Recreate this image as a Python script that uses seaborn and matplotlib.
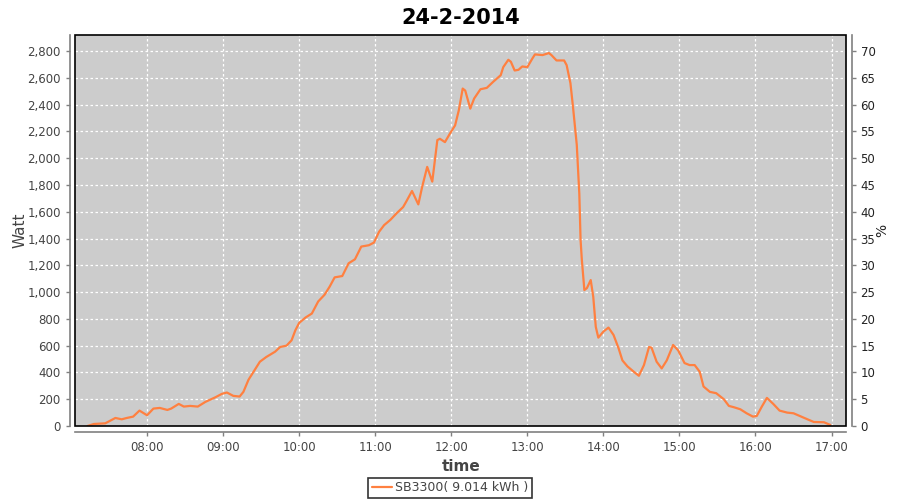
import pandas as pd
import seaborn as sns
import matplotlib.pyplot as plt
import matplotlib.dates as mdates
from matplotlib.patches import Rectangle

sns.set_style("ticks")
plt.rcParams['font.family'] = ['DejaVu Sans']

# readings of the SB3300 inverter, 24-2-2014
times = [
	"07:13", "07:18", "07:27", "07:29", "07:35", "07:40", "07:44", "07:49", "07:54", "08:00",
	"08:05", "08:10", "08:16", "08:19", "08:25", "08:29", "08:34", "08:40", "08:46", "08:54",
	"08:59", "09:03", "09:08", "09:13", "09:16", "09:20", "09:25", "09:29", "09:34", "09:41",
	"09:45", "09:50", "09:54", "09:57", "10:00", "10:05", "10:10", "10:15", "10:20", "10:24",
	"10:28", "10:34", "10:39", "10:44", "10:49", "10:55", "10:59", "11:03", "11:07", "11:12",
	"11:17", "11:22", "11:25", "11:29", "11:34", "11:37", "11:41", "11:45", "11:49", "11:51",
	"11:55", "11:59", "12:03", "12:06", "12:09", "12:11", "12:15", "12:18", "12:23", "12:28",
	"12:33", "12:39", "12:41", "12:45", "12:47", "12:50", "12:53", "12:56", "13:00", "13:04",
	"13:06", "13:12", "13:17", "13:19", "13:23", "13:29", "13:31", "13:33", "13:34", "13:36",
	"13:39", "13:41", "13:42", "13:43", "13:45", "13:47", "13:50", "13:52", "13:54", "13:56",
	"14:00", "14:04", "14:08", "14:12", "14:15", "14:19", "14:24", "14:28", "14:32", "14:36",
	"14:38", "14:42", "14:46", "14:50", "14:55", "14:59", "15:04", "15:08", "15:12", "15:16",
	"15:19", "15:24", "15:29", "15:35", "15:39", "15:43", "15:48", "15:53", "15:58", "16:01",
	"16:05", "16:09", "16:14", "16:19", "16:25", "16:30", "16:36", "16:41", "16:46", "16:54",
	"16:59",
]
watt = [
	0, 15, 20, 30, 60, 50, 60, 70, 115, 80,
	130, 135, 120, 130, 165, 145, 150, 145, 180, 215,
	240, 250, 225, 220, 255, 345, 420, 480, 515, 555,
	590, 600, 640, 715, 770, 810, 840, 930, 980, 1040,
	1110, 1120, 1215, 1245, 1340, 1350, 1370, 1450, 1500, 1540,
	1590, 1635, 1685, 1755, 1655, 1785, 1935, 1825, 2135, 2145,
	2120, 2185, 2245, 2360, 2520, 2505, 2370, 2445, 2515, 2525,
	2570, 2620, 2680, 2735, 2720, 2655, 2660, 2685, 2680, 2745,
	2775, 2770, 2785, 2770, 2730, 2730, 2695, 2605, 2560, 2385,
	2100, 1735, 1390, 1240, 1015, 1030, 1090, 965, 740, 660,
	705, 735, 680, 580, 490, 445, 405, 375, 455, 590,
	585, 480, 430, 490, 605, 565, 470, 455, 455, 405,
	295, 255, 245, 200, 150, 140, 125, 95, 70, 75,
	145, 210, 165, 115, 100, 95, 70, 50, 30, 28,
	8,
]
series_name = "SB3300( 9.014 kWh )"
title = "24-2-2014"
watt_ticks = list(range(0, 2801, 200))
pct_ticks = list(range(0, 71, 5))
hour_ticks = ["08:00", "09:00", "10:00", "11:00", "12:00", "13:00", "14:00", "15:00", "16:00", "17:00"]

day = "2014-02-24 "
df = pd.DataFrame({"time": pd.to_datetime([day + t for t in times]), "watt": watt})

fig = plt.figure(figsize=(9, 5), dpi=100)
ax = fig.add_axes([0.0837, 0.148, 0.8563, 0.782])
ax.set_facecolor("#cccccc")

axis_grey = "#808080"
text_grey = "#444444"

sns.lineplot(data=df, x="time", y="watt", ax=ax, color="#ff8040", linewidth=1.6,
			 label=series_name, legend=False)

ymax = 2920
ax.set_ylim(0, ymax)
ax.set_xlim(pd.Timestamp(day + "07:03:24"), pd.Timestamp(day + "17:11:24"))
ax.set_yticks(watt_ticks)
ax.set_yticklabels([f"{v:,}" for v in watt_ticks])
ax.set_xticks(pd.to_datetime([day + h for h in hour_ticks]))
ax.xaxis.set_major_formatter(mdates.DateFormatter("%H:%M"))

ax.grid(True, color="white", linestyle=(0, (2, 2)), linewidth=0.9)
ax.set_axisbelow(True)

for s in ["top", "right"]:
	ax.spines[s].set_visible(False)
for s in ["left", "bottom"]:
	ax.spines[s].set_position(("outward", 4))
	ax.spines[s].set_color(axis_grey)
	ax.spines[s].set_linewidth(1.2)
ax.add_patch(Rectangle((0, 0), 1, 1, transform=ax.transAxes, fill=False,
					   edgecolor="black", linewidth=1.2, clip_on=False, zorder=5))
ax.tick_params(axis="both", colors=axis_grey, labelcolor=text_grey, labelsize=8.5,
			   length=3, width=1)

ax.set_xlabel("time", fontsize=11, color=text_grey, fontweight="bold", labelpad=4)
ax.set_ylabel("Watt", fontsize=11, color=text_grey, labelpad=0)
ax.set_title(title, fontsize=15, fontweight="bold", color="black", pad=8)

ax2 = ax.twinx()
ax2.set_ylim(0, ymax / 40)
ax2.set_yticks(pct_ticks)
for s in ["top", "left", "bottom"]:
	ax2.spines[s].set_visible(False)
ax2.spines["right"].set_position(("outward", 4))
ax2.spines["right"].set_color(axis_grey)
ax2.spines["right"].set_linewidth(1.2)
ax2.tick_params(axis="y", colors=axis_grey, labelcolor="#222222", labelsize=8.5,
				length=3, width=1)
ax2.set_ylabel("%", fontsize=10, color="#222222", labelpad=0)

handles, labels = ax.get_legend_handles_labels()
leg = fig.legend(handles, labels, loc="lower center", bbox_to_anchor=(0.5, 0.004),
				 frameon=True, fancybox=False, edgecolor="black", fontsize=9,
				 handlelength=1.6, handletextpad=0.3, borderpad=0.3, borderaxespad=0)
leg.get_frame().set_linewidth(1.2)
for t in leg.get_texts():
	t.set_color(text_grey)

fig.savefig("out.png", dpi=100)
